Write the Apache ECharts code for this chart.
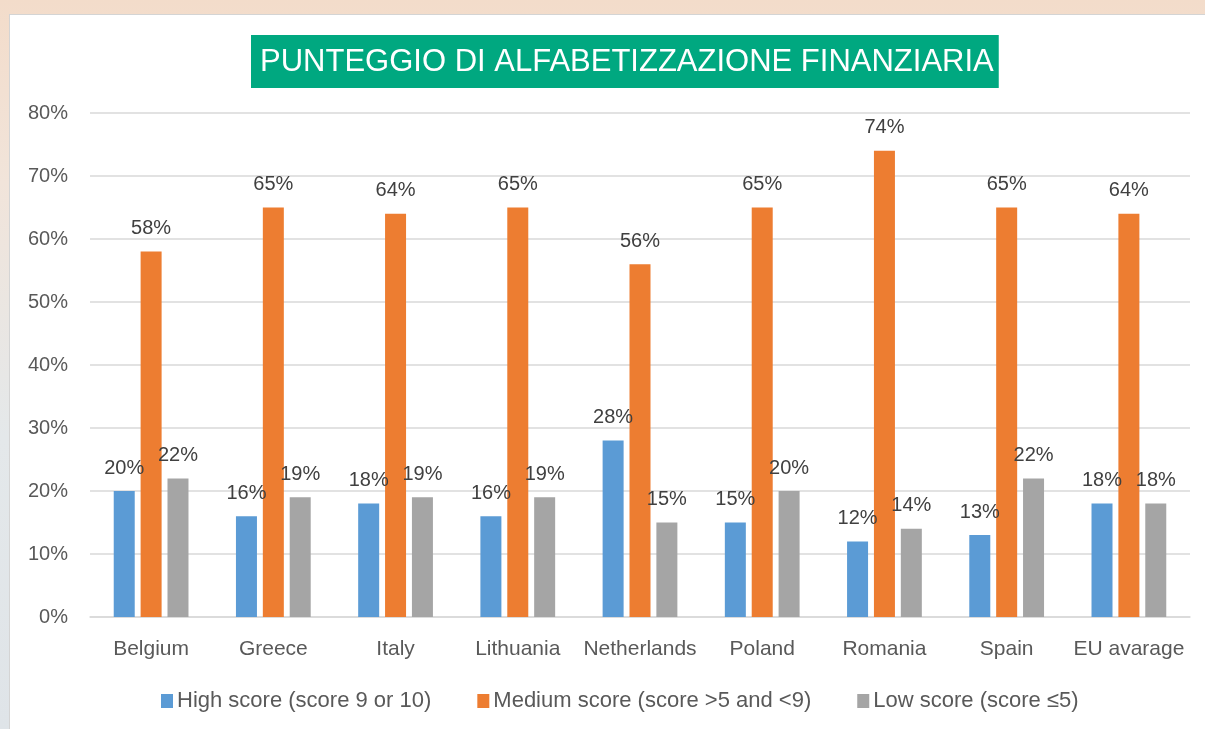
<!DOCTYPE html>
<html>
<head>
<meta charset="utf-8">
<script src="https://cdn.jsdelivr.net/npm/echarts@6/dist/echarts.min.js"></script>
<style>
  html, body { margin: 0; padding: 0; width: 1205px; height: 729px; overflow: hidden; }
  body {
    background: linear-gradient(180deg, #f3dcca 0%, #f1e4da 25%, #e4e8ea 60%, #dfe4e8 100%);
  }
  .panel {
    position: absolute; left: 9px; top: 14px; width: 1210px; height: 730px;
    background: #fff; border: 1px solid #d4d4d4;
  }
  #chart { position: absolute; left: 0; top: 0; width: 1205px; height: 729px; }
</style>
</head>
<body>
<div class="panel"></div>
<div id="chart"></div>
<script>
const categories = ['Belgium', 'Greece', 'Italy', 'Lithuania', 'Netherlands', 'Poland', 'Romania', 'Spain', 'EU avarage']
const highScore = [20, 16, 18, 16, 28, 15, 12, 13, 18]
const mediumScore = [58, 65, 64, 65, 56, 65, 74, 65, 64]
const lowScore = [22, 19, 19, 19, 15, 20, 14, 22, 18]
const seriesNames = ['High score (score 9 or 10)', 'Medium score (score >5 and <9)', 'Low score (score ≤5)']
const colors = ['#5b9bd5', '#ed7d31', '#a5a5a5']

const FONT = '"Liberation Sans", Arial, sans-serif'

const chart = echarts.init(document.getElementById('chart'))

function bar(name, data, color) {
  return {
    name,
    type: 'bar',
    data,
    barWidth: 21,
    barGap: '28%',
    itemStyle: { color },
    label: {
      show: true,
      position: 'top',
      distance: 13,
      color: '#404040',
      fontSize: 20,
      fontFamily: FONT,
      formatter: (p) => p.value + '%',
    },
  }
}

chart.setOption({
  backgroundColor: 'transparent',
  animation: false,
  title: {
    text: 'PUNTEGGIO DI ALFABETIZZAZIONE FINANZIARIA',
    left: 251,
    top: 35,
    backgroundColor: '#00a880',
    padding: [10, 5, 8, 9],
    textStyle: { color: '#fff', fontSize: 31, fontWeight: 'normal', fontFamily: FONT, lineHeight: 35 },
  },
  legend: {
    bottom: 12,
    left: 156,
    itemWidth: 12,
    itemHeight: 14,
    itemGap: 46,
    icon: 'rect',
    textStyle: { color: '#595959', fontSize: 22, fontFamily: FONT, padding: [0, 0, 0, -1] },
  },
  grid: { left: 90, right: 15, top: 113, bottom: 112 },
  xAxis: {
    type: 'category',
    data: categories,
    axisLine: { lineStyle: { color: '#d9d9d9', width: 1.5 } },
    axisTick: { show: false },
    axisLabel: { color: '#595959', fontSize: 21, fontFamily: FONT, margin: 22, interval: 0 },
  },
  yAxis: {
    type: 'value',
    min: 0,
    max: 80,
    interval: 10,
    splitLine: { lineStyle: { color: '#d9d9d9', width: 1.5 } },
    axisLabel: { color: '#595959', fontSize: 20, fontFamily: FONT, margin: 22, formatter: '{value}%' },
  },
  series: [
    bar(seriesNames[0], highScore, colors[0]),
    bar(seriesNames[1], mediumScore, colors[1]),
    bar(seriesNames[2], lowScore, colors[2]),
  ],
})
</script>
</body>
</html>
